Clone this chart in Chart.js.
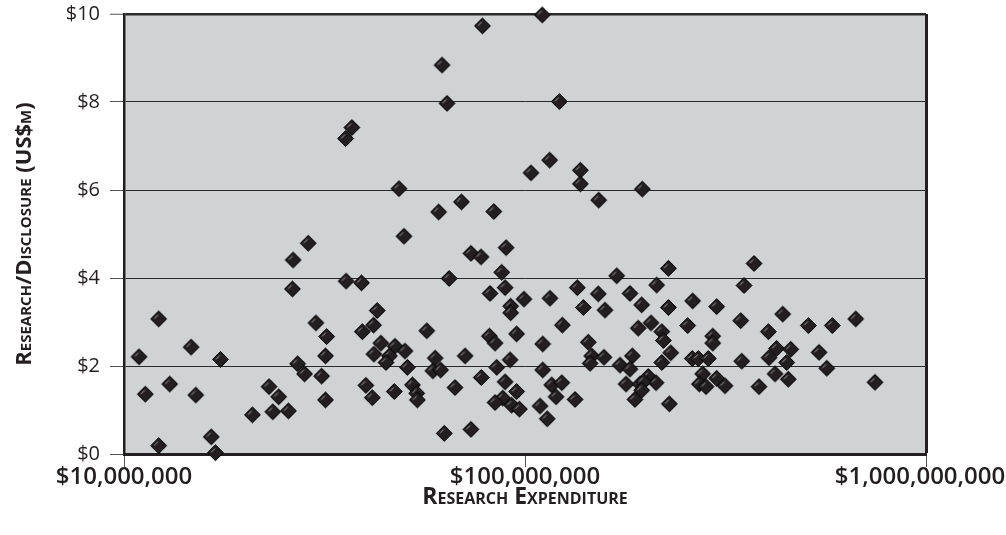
<!DOCTYPE html>
<html>
<head>
<meta charset="utf-8">
<script src="https://cdn.jsdelivr.net/npm/chart.js@4.4.1/dist/chart.umd.min.js"></script>
<style>
  html, body { margin: 0; padding: 0; background: #ffffff; }
  #wrap { width: 1006px; height: 535px; position: relative; }
</style>
</head>
<body>
<div id="wrap"><canvas id="c" width="1006" height="535"></canvas></div>
<script>
// Research expenditure (US$ millions) of each institution
const expenditureM = [
  10.9, 11.3, 12.2, 12.2, 13.0, 14.7, 15.1, 16.5, 16.9, 17.4,
  20.9, 23.0, 24.3, 23.5, 25.7, 26.4, 26.3, 28.8, 30.1, 32.0,
  31.8, 27.1, 28.2, 31.1, 31.8, 35.8, 39.1, 37.0, 35.7, 48.5,
  49.9, 62.1, 63.9, 78.3, 69.4, 60.9, 83.6, 73.3, 77.7, 89.7,
  64.7, 87.5, 89.2, 81.8, 99.4, 92.1, 92.1, 42.8, 41.9, 39.3,
  56.9, 43.7, 47.4, 42.0, 45.9, 50.2, 45.0, 50.9, 59.7, 58.9,
  61.6, 70.9, 81.5, 84.2, 95.3, 85.0, 91.8, 77.8, 89.2, 95.3,
  88.0, 84.2, 92.6, 96.8, 40.1, 41.6, 47.2, 52.4, 53.7, 53.9,
  66.9, 62.9, 73.3, 110.4, 121.8, 115.2, 103.5, 137.4, 137.4, 196.1,
  152.7, 227.8, 169.3, 213.0, 135.0, 115.4, 152.3, 139.8, 158.3, 182.7,
  195.4, 227.8, 261.9, 300.6, 123.9, 191.6, 206.2, 219.3, 221.3, 254.5,
  293.8, 293.8, 110.7, 143.8, 146.7, 145.3, 157.4, 185.2, 172.6, 182.7,
  230.9, 219.3, 261.3, 270.5, 286.5, 110.7, 277.4, 300.6, 315.3, 272.1,
  282.8, 116.6, 123.5, 119.5, 133.3, 109.0, 113.6, 178.6, 193.6, 203.0,
  212.2, 197.2, 195.4, 188.0, 229.1, 372.5, 351.7, 345.1, 439.2, 404.4,
  508.8, 583.9, 667.9, 424.1, 459.8, 406.0, 449.3, 541.1, 347.1, 565.6,
  420.2, 453.5, 383.3, 746.1
];
// Research expenditure per disclosure (US$ millions)
const perDisclosure = [
  2.21, 1.36, 3.07, 0.19, 1.59, 2.43, 1.34, 0.39, 0.03, 2.15,
  0.89, 1.53, 1.30, 0.96, 0.98, 4.41, 3.75, 4.79, 2.98, 2.67,
  2.23, 2.05, 1.82, 1.77, 1.23, 3.93, 3.89, 7.42, 7.17, 6.03,
  4.95, 8.84, 7.97, 9.73, 5.73, 5.50, 5.51, 4.56, 4.48, 4.69,
  3.99, 4.13, 3.78, 3.65, 3.52, 3.36, 3.21, 3.26, 2.93, 2.78,
  2.80, 2.52, 2.45, 2.27, 2.23, 2.34, 2.08, 1.97, 2.18, 1.89,
  1.91, 2.23, 2.68, 2.52, 2.73, 1.97, 2.14, 1.74, 1.64, 1.42,
  1.27, 1.17, 1.11, 1.02, 1.56, 1.28, 1.42, 1.57, 1.38, 1.23,
  1.51, 0.47, 0.56, 9.98, 8.01, 6.68, 6.39, 6.45, 6.14, 6.02,
  5.77, 4.22, 4.05, 3.84, 3.78, 3.54, 3.64, 3.33, 3.27, 3.65,
  3.39, 3.33, 3.48, 3.35, 2.93, 2.86, 2.98, 2.78, 2.58, 2.92,
  2.68, 2.52, 2.50, 2.54, 2.23, 2.06, 2.20, 2.23, 2.02, 1.93,
  2.30, 2.08, 2.17, 2.17, 2.17, 1.91, 1.82, 1.72, 1.55, 1.59,
  1.53, 1.57, 1.62, 1.30, 1.24, 1.09, 0.80, 1.59, 1.59, 1.76,
  1.62, 1.64, 1.45, 1.24, 1.14, 4.33, 3.83, 3.03, 3.18, 2.78,
  2.92, 2.92, 3.07, 2.40, 2.38, 2.19, 2.08, 2.31, 2.11, 1.95,
  1.82, 1.70, 1.53, 1.63
];
const xTickValues = [10000000, 100000000, 1000000000];
const yTickValues = [0, 2, 4, 6, 8, 10];
const xTitle = 'Research Expenditure';
const yTitle = 'Research/Disclosure (US$m)';

const INK = '#231f20';

function makeDiamond(r) {
  const s = Math.ceil(r * 2 + 3);
  const c = document.createElement('canvas');
  c.width = s; c.height = s;
  const g = c.getContext('2d');
  const m = s / 2;
  g.beginPath();
  g.moveTo(m - r, m); g.lineTo(m, m - r); g.lineTo(m + r, m); g.lineTo(m, m + r);
  g.closePath();
  g.fillStyle = INK; g.fill();
  g.lineWidth = 1; g.strokeStyle = '#000'; g.stroke();
  g.beginPath();
  g.moveTo(m - r * 0.55, m - r * 0.02);
  g.lineTo(m - r * 0.08, m - r * 0.5);
  g.strokeStyle = 'rgba(190,190,190,0.85)'; g.lineWidth = 1; g.stroke();
  return c;
}

const plotBg = {
  id: 'plotBg',
  beforeDraw(chart) {
    const { ctx, chartArea: a } = chart;
    ctx.save();
    ctx.fillStyle = '#d1d2d4';
    ctx.fillRect(a.left, a.top, a.right - a.left, a.bottom - a.top);
    ctx.restore();
  }
};

const points = expenditureM.map((m, i) => ({ x: m * 1e6, y: perDisclosure[i] }));

// The last tick label is nudged inward (as in the original) with a trailing en space
const xLabel = (v, i, arr) => {
  const s = '$' + Number(v).toLocaleString('en-US');
  return i === arr.length - 1 ? s + '\u2002' : s;
};

new Chart(document.getElementById('c'), {
  type: 'scatter',
  data: {
    datasets: [{
      data: points,
      pointStyle: makeDiamond(8),
      pointRadius: 8,
      clip: false
    }]
  },
  options: {
    responsive: false,
    animation: false,
    layout: { padding: { top: 14, right: 80, left: 0, bottom: 0 } },
    plugins: { legend: { display: false }, tooltip: { enabled: false } },
    scales: {
      x: {
        type: 'logarithmic',
        min: 10000000,
        max: 1000000000,
        afterBuildTicks: s => { s.ticks = xTickValues.map(v => ({ value: v })); },
        afterFit: s => { s.height = 81; s.paddingLeft = 0; s.paddingRight = 0; },
        ticks: {
          autoSkip: false,
          maxRotation: 0,
          padding: -2,
          color: INK,
          font: { family: 'Open Sans', size: 24, weight: '600', lineHeight: 1 },
          callback: xLabel
        },
        grid: {
          color: c => (c.tick && c.tick.value === 1000000000) ? INK : 'rgba(0,0,0,0)',
          lineWidth: c => (c.tick && c.tick.value === 1000000000) ? 3 : 1,
          tickColor: '#555',
          tickWidth: 1,
          tickLength: 13
        },
        border: { display: true, color: INK, width: 3 },
        title: {
          display: true,
          text: xTitle,
          color: INK,
          font: { family: 'Open Sans', size: 23, weight: 'small-caps 700', lineHeight: 1.1 },
          padding: { top: 0, bottom: 25 }
        }
      },
      y: {
        min: 0,
        max: 10,
        afterBuildTicks: s => { s.ticks = yTickValues.map(v => ({ value: v })); },
        afterFit: s => { s.width = 124; s.paddingTop = 0; s.paddingBottom = 0; },
        ticks: {
          padding: 10,
          color: INK,
          font: { family: 'Open Sans', size: 20 },
          callback: v => '$' + v
        },
        grid: {
          color: '#2a2a2a',
          lineWidth: c => (c.tick && c.tick.value === 10) ? 2.5 : 1,
          tickColor: '#555',
          tickWidth: 1,
          tickLength: 14
        },
        border: { display: true, color: INK, width: 2.5 },
        title: {
          display: true,
          text: yTitle,
          color: INK,
          font: { family: 'Open Sans', size: 22, weight: 'small-caps 700', lineHeight: 1.1 },
          padding: { top: 13, bottom: 0 }
        }
      }
    }
  },
  plugins: [plotBg]
});
</script>
</body>
</html>
